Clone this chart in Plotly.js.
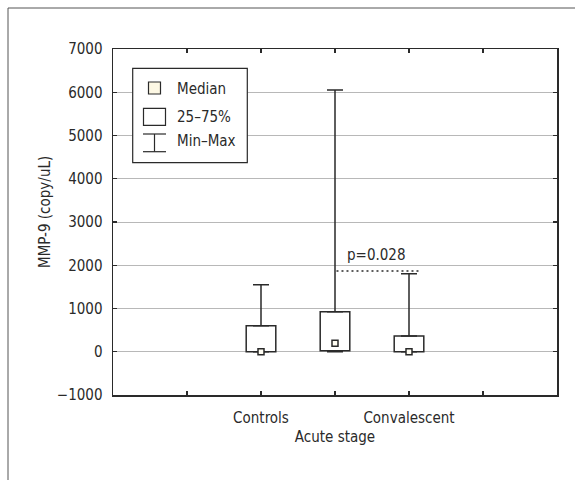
<!DOCTYPE html>
<html>
<head>
<meta charset="utf-8">
<script src="https://cdn.plot.ly/plotly-3.0.1.min.js"></script>
<style>html,body{margin:0;padding:0;background:#fff;}#chart{width:575px;height:480px;}</style>
</head>
<body>
<div id="chart"></div>
<script>
// ---- data ----
const categories = ['Controls', 'Acute stage', 'Convalescent'];
const catPos = [2, 3, 4];
const minVals = [0, 0, 0];
const q1Vals = [0, 23, 0];
const medianVals = [0, 194, 0];
const q3Vals = [601, 925, 363];
const maxVals = [1550, 6050, 1803];
const pText = 'p=0.028';
const pLineX = [3.02, 4.15];
const pLineY = [1866, 1866];
const pTextPos = [3.56, 2237];
const yTicks = [-1000, 0, 1000, 2000, 3000, 4000, 5000, 6000, 7000];

// ---- layout helpers (pixel -> paper) ----
const W = 575, H = 480, ML = 113, MR = 18, MT = 49, MB = 85;
const PW = W - ML - MR, PH = H - MT - MB;
const px = x => (x - ML) / PW;
const py = y => 1 - (y - MT) / PH;

const FONT = '"DejaVu Sans Condensed", "Liberation Sans", sans-serif';
const FS = 15;
const INK = '#2a2a2a';

const traces = [
  {
    type: 'bar', x: catPos, base: q1Vals,
    y: q3Vals.map((v, i) => v - q1Vals[i]),
    width: 0.4,
    marker: {color: '#ffffff', line: {color: INK, width: 1.5}},
    showlegend: false, hoverinfo: 'skip'
  },
  {
    type: 'scatter', mode: 'markers', x: catPos, y: q3Vals,
    marker: {size: 1, color: 'rgba(0,0,0,0)'},
    error_y: {type: 'data', symmetric: false,
      array: maxVals.map((v, i) => v - q3Vals[i]), arrayminus: [0, 0, 0],
      width: 8, thickness: 1.5, color: INK},
    showlegend: false, hoverinfo: 'skip'
  },
  {
    type: 'scatter', mode: 'markers', x: catPos, y: q1Vals,
    marker: {size: 1, color: 'rgba(0,0,0,0)'},
    error_y: {type: 'data', symmetric: false,
      array: [0, 0, 0], arrayminus: q1Vals.map((v, i) => v - minVals[i]),
      width: 8, thickness: 1.5, color: INK},
    showlegend: false, hoverinfo: 'skip'
  },
  {
    type: 'scatter', mode: 'markers', x: catPos, y: medianVals,
    marker: {symbol: 'square', size: 6, color: '#fffdf3', line: {color: INK, width: 1.5}},
    cliponaxis: false, showlegend: false
  },
  {
    type: 'scatter', mode: 'lines', x: pLineX, y: pLineY,
    line: {color: INK, width: 1.5, dash: '2px,3px'},
    showlegend: false, hoverinfo: 'skip'
  }
];

const shapes = [
  // outer frame (continues past right/bottom edge)
  {type: 'rect', xref: 'paper', yref: 'paper', x0: px(8), x1: px(620), y0: py(520), y1: py(8),
   line: {color: '#555', width: 1}, fillcolor: 'rgba(0,0,0,0)', layer: 'below'},
  // legend box
  {type: 'rect', xref: 'paper', yref: 'paper', x0: px(132.7), x1: px(247.3), y0: py(162.7), y1: py(68.3),
   line: {color: INK, width: 1.2}, fillcolor: '#ffffff'},
  // median symbol
  {type: 'rect', xref: 'paper', yref: 'paper', x0: px(148.5), x1: px(160.5), y0: py(94), y1: py(82),
   line: {color: INK, width: 1.2}, fillcolor: '#fdf8e4'},
  // 25-75% symbol
  {type: 'rect', xref: 'paper', yref: 'paper', x0: px(143.5), x1: px(165.5), y0: py(125.3), y1: py(108.3),
   line: {color: INK, width: 1.2}, fillcolor: '#ffffff'},
  // min-max symbol
  {type: 'line', xref: 'paper', yref: 'paper', x0: px(154.5), x1: px(154.5), y0: py(151.7), y1: py(134),
   line: {color: INK, width: 1.2}},
  {type: 'line', xref: 'paper', yref: 'paper', x0: px(143), x1: px(166), y0: py(134), y1: py(134),
   line: {color: INK, width: 1.2}},
  {type: 'line', xref: 'paper', yref: 'paper', x0: px(143), x1: px(166), y0: py(151.7), y1: py(151.7),
   line: {color: INK, width: 1.2}}
];

const legendItems = ['Median', '25\u201375%', 'Min\u2013Max'];
const legendY = [89, 116.5, 141.5];
const annotations = legendItems.map((t, i) => ({
  xref: 'paper', yref: 'paper', x: px(175), y: py(legendY[i]), xanchor: 'left', yanchor: 'middle',
  text: t, showarrow: false, font: {family: FONT, size: FS, color: INK}
}));
annotations.push({
  xref: 'x', yref: 'y', x: pTextPos[0], y: pTextPos[1], text: pText, showarrow: false,
  xanchor: 'center', yanchor: 'middle', font: {family: FONT, size: FS, color: INK}
});
annotations.push({
  xref: 'paper', yref: 'paper', x: px(45), y: py(212), textangle: -90, text: 'MMP-9 (copy/uL)',
  showarrow: false, xanchor: 'center', yanchor: 'middle', font: {family: FONT, size: FS, color: INK}
});

const tickvals = [0, 1, 2, 3, 4, 5, 6];
const ticktext = tickvals.map(v => {
  const i = catPos.indexOf(v);
  if (i < 0) return '';
  return i === 1 ? '<br>' + categories[i] : categories[i];
});

const layout = {
  width: W, height: H,
  margin: {l: ML, r: MR, t: MT, b: MB, pad: 0},
  paper_bgcolor: '#ffffff', plot_bgcolor: '#ffffff',
  font: {family: FONT, size: FS, color: INK},
  showlegend: false,
  xaxis: {
    range: [0, 6], tickvals: tickvals, ticktext: ticktext, tickangle: 0,
    showgrid: false, zeroline: false,
    showline: true, linecolor: INK, linewidth: 1.5, mirror: 'ticks',
    ticks: 'inside', ticklen: 4, tickcolor: INK, tickwidth: 1.2,
    ticklabelstandoff: 8,
    tickfont: {family: FONT, size: FS, color: INK}
  },
  yaxis: {
    range: [-1000, 7000], tickvals: yTicks,
    showgrid: true, gridcolor: '#b8b8b8', gridwidth: 1, zeroline: false,
    showline: true, linecolor: INK, linewidth: 1.5, mirror: 'ticks',
    ticks: 'inside', ticklen: 4, tickcolor: INK, tickwidth: 1.2,
    ticklabelstandoff: 6,
    tickfont: {family: FONT, size: FS, color: INK}
  },
  shapes: shapes,
  annotations: annotations
};

Plotly.newPlot('chart', traces, layout, {staticPlot: true, displayModeBar: false});
</script>
</body>
</html>
